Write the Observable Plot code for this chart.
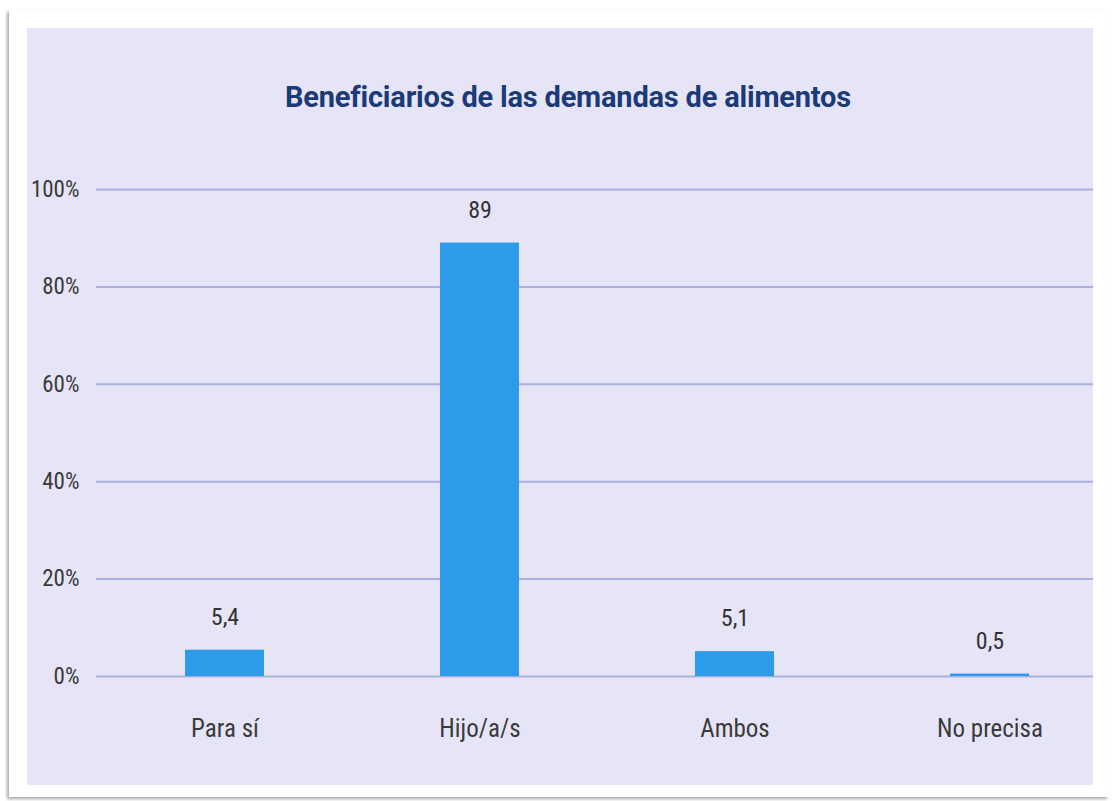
<!DOCTYPE html>
<html>
<head>
<meta charset="utf-8">
<script src="https://cdn.jsdelivr.net/npm/d3@7"></script>
<script src="https://cdn.jsdelivr.net/npm/@observablehq/plot@0.6"></script>
<style>
  html, body { margin: 0; padding: 0; background: #ffffff; width: 1113px; height: 801px; overflow: hidden; }
  #card { position: absolute; left: 9px; top: 10px; width: 1100px; height: 787px; background: #fff;
          box-shadow: -2px 2px 3px rgba(0,0,0,0.35); }
  #panel { position: absolute; left: 27px; top: 28px; width: 1066px; height: 757px; background: #e6e5f7; }
  #title { position: absolute; left: 27px; width: 1082px; top: 80px; text-align: center;
           font-family: "Roboto", "Liberation Sans", sans-serif; font-weight: 700; font-size: 29px;
           color: #1b3a78; letter-spacing: -0.2px; }
  #chart { position: absolute; left: 0; top: 140px; }
</style>
</head>
<body>
<div id="card"></div>
<div id="panel"></div>
<div id="title">Beneficiarios de las demandas de alimentos</div>
<div id="chart"></div>
<script>
const categories = ["Para sí", "Hijo/a/s", "Ambos", "No precisa"];
const values = [5.4, 89, 5.1, 0.5];
const valueLabels = ["5,4", "89", "5,1", "0,5"];
const yTicks = [0, 20, 40, 60, 80, 100];

const data = categories.map((c, i) => ({cat: c, value: values[i], label: valueLabels[i]}));

const chart = Plot.plot({
  width: 1113,
  height: 640,
  marginLeft: 96,
  marginRight: 20,
  marginTop: 49,
  marginBottom: 104,
  style: {background: "transparent", fontFamily: "'Roboto Condensed', 'Roboto', sans-serif", fontSize: "23px", color: "#3a3a3a"},
  x: {domain: categories, range: [96.5, 1117.5], paddingInner: 0.69, paddingOuter: 0.345, label: null},
  y: {domain: [0, 100], label: null},
  marks: [
    Plot.ruleY(yTicks, {stroke: "#a7afdb", strokeWidth: 2}),
    Plot.barY(data, {x: "cat", y: "value", fill: "#2b9bea"}),
    Plot.text(data, {x: "cat", y: "value", text: "label", dy: -33, fill: "#333", fontSize: 24}),
    Plot.axisY(yTicks, {tickSize: 0, tickPadding: 17, tickFormat: d => d + "%", fontSize: 23, fill: "#3a3a3a", label: null}),
    Plot.axisX({tickSize: 0, tickPadding: 43, fontSize: 25, fill: "#3a3a3a", label: null})
  ]
});
document.getElementById("chart").appendChild(chart);
</script>
</body>
</html>
